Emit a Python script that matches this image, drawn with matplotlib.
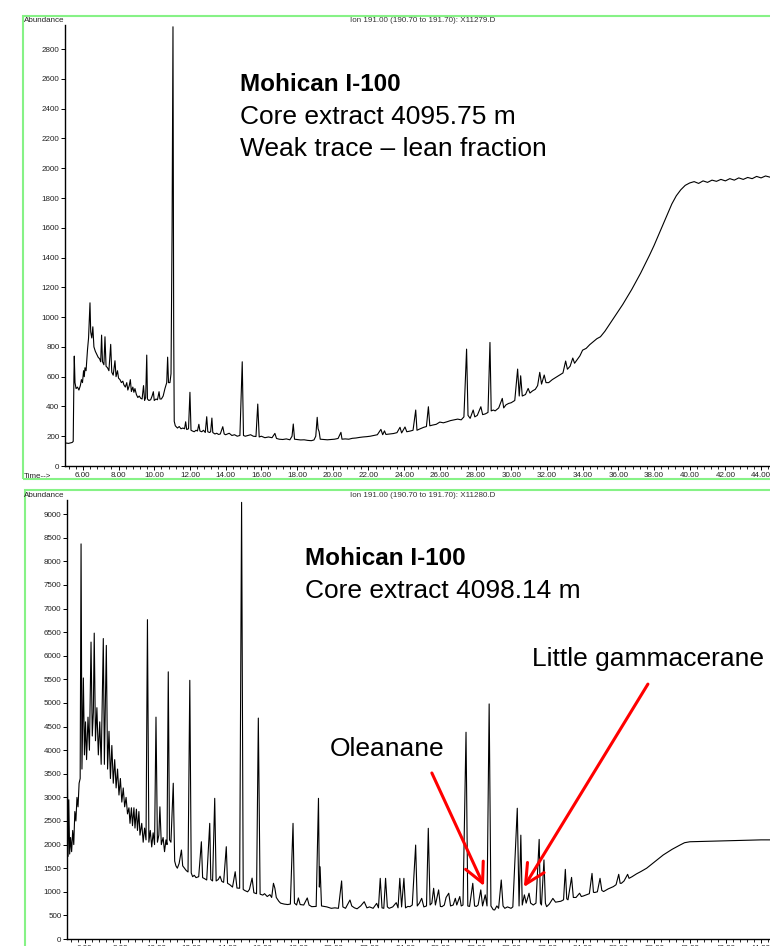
"""
Two stacked m/z 191 ion chromatograms (hopane fingerprint) for the
Mohican I-100 core extracts, drawn in the style of a ChemStation printout.
"""

import matplotlib
matplotlib.use("Agg")
import matplotlib.pyplot as plt
from matplotlib.patches import Rectangle
from matplotlib.ticker import MultipleLocator, FormatStrFormatter

plt.rcParams["font.family"] = ["Liberation Sans", "DejaVu Sans"]

W, H = 770, 946

# ---------------------------------------------------------------------------
# Trace data (retention time in min, abundance)
# ---------------------------------------------------------------------------

upper_time = [
    5.00, 5.20, 5.40, 5.46, 5.50, 5.52, 5.56, 5.62, 5.70, 5.78, 5.86, 5.92,
    5.98, 6.04, 6.08, 6.12, 6.18, 6.26, 6.32, 6.40, 6.44, 6.50, 6.56, 6.62,
    6.70, 6.78, 6.86, 6.94, 7.00, 7.05, 7.10, 7.18, 7.24, 7.30, 7.38, 7.46,
    7.56, 7.62, 7.70, 7.80, 7.86, 7.94, 8.00, 8.08, 8.16, 8.24, 8.30, 8.38,
    8.46, 8.52, 8.60, 8.66, 8.72, 8.80, 8.86, 8.92, 9.00, 9.08, 9.16, 9.24,
    9.32, 9.40, 9.46, 9.52, 9.58, 9.62, 9.70, 9.80, 9.88, 9.95, 10.00, 10.10,
    10.18, 10.27, 10.32, 10.40, 10.50, 10.60, 10.70, 10.75, 10.80, 10.88,
    10.94, 11.00, 11.05, 11.09, 11.12, 11.18, 11.30, 11.40, 11.50, 11.60,
    11.70, 11.76, 11.82, 11.92, 12.00, 12.06, 12.14, 12.24, 12.34, 12.42,
    12.50, 12.56, 12.66, 12.76, 12.86, 12.94, 13.00, 13.10, 13.16, 13.23,
    13.28, 13.40, 13.50, 13.60, 13.70, 13.84, 13.92, 14.00, 14.20, 14.35,
    14.50, 14.65, 14.80, 14.93, 15.00, 15.10, 15.25, 15.40, 15.55, 15.70,
    15.80, 15.88, 16.00, 16.20, 16.40, 16.60, 16.76, 16.85, 17.00, 17.20,
    17.40, 17.60, 17.72, 17.79, 17.86, 18.00, 18.20, 18.40, 18.60, 18.80,
    18.95, 19.05, 19.13, 19.18, 19.24, 19.30, 19.50, 19.70, 19.90, 20.10,
    20.30, 20.46, 20.52, 20.70, 20.90, 21.10, 21.30, 21.50, 21.70, 21.90,
    22.10, 22.30, 22.50, 22.70, 22.80, 22.90, 22.98, 23.20, 23.40, 23.60,
    23.77, 23.86, 24.05, 24.15, 24.35, 24.50, 24.65, 24.72, 24.90, 25.10,
    25.25, 25.36, 25.44, 25.60, 25.80, 26.00, 26.20, 26.40, 26.60, 26.80,
    27.00, 27.20, 27.35, 27.50, 27.58, 27.70, 27.87, 27.96, 28.10, 28.30,
    28.40, 28.55, 28.70, 28.81, 28.88, 29.00, 29.10, 29.30, 29.50, 29.58,
    29.70, 29.85, 30.00, 30.20, 30.36, 30.45, 30.53, 30.62, 30.80, 30.95,
    31.05, 31.20, 31.35, 31.48, 31.60, 31.70, 31.85, 31.95, 32.10, 32.30,
    32.50, 32.70, 32.90, 33.05, 33.15, 33.30, 33.45, 33.55, 33.70, 33.85,
    34.00, 34.20, 34.40, 34.60, 34.80, 35.00, 35.25, 35.50, 35.75, 36.00,
    36.25, 36.50, 36.75, 37.00, 37.25, 37.50, 37.75, 38.00, 38.25, 38.50,
    38.75, 39.00, 39.25, 39.50, 39.75, 40.00, 40.25, 40.50, 40.75, 41.00,
    41.25, 41.50, 41.75, 42.00, 42.25, 42.50, 42.75, 43.00, 43.25, 43.50,
    43.75, 44.00, 44.25, 44.50,
]
upper_abund = [
    155, 152, 158, 165, 600, 738, 560, 520, 530, 510, 540, 580,
    560, 640, 600, 660, 640, 780, 860, 1096, 900, 860, 935, 800,
    770, 750, 730, 720, 700, 879, 700, 680, 868, 670, 660, 640,
    817, 630, 610, 707, 600, 640, 590, 580, 560, 570, 545, 530,
    560, 510, 540, 580, 500, 530, 495, 520, 480, 460, 470, 455,
    450, 540, 440, 460, 745, 450, 440, 445, 470, 499, 440, 450,
    445, 499, 450, 450, 470, 520, 560, 731, 560, 560,
    620, 1600, 2950, 900, 300, 270, 255, 265, 250, 255,
    250, 297, 245, 250, 495, 240, 235, 230, 240, 235,
    280, 235, 230, 240, 225, 331, 230, 225, 230, 322,
    225, 215, 220, 212, 215, 264, 215, 210, 220, 205,
    210, 200, 205, 700, 205, 200, 205, 210, 200, 198,
    416, 195, 200, 190, 195, 190, 219, 185, 180, 178,
    182, 176, 200, 282, 180, 178, 175, 176, 172, 170,
    175, 200, 327, 250, 230, 180, 178, 176, 178, 180,
    185, 226, 180, 182, 180, 186, 188, 192, 195, 197,
    200, 205, 210, 246, 210, 236, 212, 215, 218, 224,
    260, 222, 262, 230, 235, 240, 376, 240, 250, 260,
    265, 398, 270, 275, 280, 295, 290, 297, 305, 310,
    315, 310, 330, 785, 340, 320, 376, 330, 340, 398,
    345, 350, 360, 830, 370, 376, 370, 390, 454, 390,
    410, 420, 425, 440, 651, 470, 606, 470, 480, 521,
    490, 505, 515, 540, 629, 550, 611, 560, 560, 580,
    595, 610, 625, 705, 650, 670, 725, 690, 715, 740,
    778, 790, 815, 835, 855, 868, 905, 950, 995, 1040,
    1085, 1135, 1185, 1240, 1295, 1355, 1416, 1480, 1550, 1620,
    1690, 1760, 1815, 1855, 1885, 1901, 1910, 1898, 1915, 1905,
    1920, 1912, 1925, 1915, 1930, 1920, 1935, 1925, 1938, 1930,
    1945, 1935, 1948, 1940,
]

lower_time = [
    5.00, 5.02, 5.06, 5.10, 5.15, 5.20, 5.26, 5.32, 5.38, 5.44, 5.50, 5.56,
    5.62, 5.68, 5.74, 5.79, 5.84, 5.92, 5.98, 6.04, 6.10, 6.18, 6.26, 6.35,
    6.42, 6.48, 6.53, 6.60, 6.68, 6.76, 6.84, 6.92, 7.04, 7.10, 7.21, 7.28,
    7.36, 7.44, 7.52, 7.60, 7.68, 7.76, 7.84, 7.92, 8.00, 8.08, 8.16, 8.24,
    8.32, 8.40, 8.48, 8.54, 8.62, 8.68, 8.76, 8.82, 8.90, 8.96, 9.04, 9.10,
    9.20, 9.28, 9.36, 9.44, 9.52, 9.60, 9.68, 9.76, 9.84, 9.92, 10.00, 10.08,
    10.16, 10.22, 10.30, 10.40, 10.48, 10.56, 10.62, 10.69, 10.76, 10.84,
    10.97, 11.05, 11.12, 11.20, 11.30, 11.43, 11.50, 11.60, 11.70, 11.80,
    11.90, 11.98, 12.06, 12.15, 12.25, 12.40, 12.55, 12.62, 12.72, 12.85,
    13.02, 13.08, 13.18, 13.30, 13.38, 13.50, 13.60, 13.70, 13.80, 13.95,
    14.02, 14.15, 14.30, 14.45, 14.55, 14.70, 14.81, 14.90, 15.00, 15.15,
    15.25, 15.40, 15.50, 15.65, 15.75, 15.85, 16.00, 16.10, 16.25, 16.40,
    16.50, 16.60, 16.68, 16.76, 16.90, 17.00, 17.20, 17.40, 17.55, 17.70,
    17.78, 17.90, 18.00, 18.10, 18.30, 18.50, 18.60, 18.75, 19.00, 19.13,
    19.18, 19.22, 19.30, 19.45, 19.60, 19.85, 20.05, 20.25, 20.43, 20.50,
    20.65, 20.90, 21.00, 21.15, 21.30, 21.50, 21.70, 21.85, 22.00, 22.20,
    22.40, 22.50, 22.60, 22.70, 22.80, 22.90, 23.00, 23.10, 23.30, 23.50,
    23.60, 23.70, 23.80, 23.93, 24.02, 24.15, 24.27, 24.40, 24.59, 24.68,
    24.80, 24.93, 25.05, 25.20, 25.30, 25.40, 25.50, 25.60, 25.70, 25.88,
    25.98, 26.07, 26.20, 26.30, 26.45, 26.55, 26.70, 26.82, 26.90, 27.07,
    27.15, 27.25, 27.42, 27.52, 27.62, 27.80, 27.90, 28.00, 28.10, 28.25,
    28.35, 28.50, 28.60, 28.72, 28.82, 28.95, 29.03, 29.15, 29.25, 29.40,
    29.50, 29.60, 29.75, 29.95, 30.05, 30.30, 30.40, 30.50, 30.58, 30.70,
    30.80, 30.96, 31.05, 31.20, 31.35, 31.53, 31.60, 31.66, 31.80, 31.88,
    31.95, 32.10, 32.30, 32.45, 32.60, 32.75, 32.90, 33.00, 33.08, 33.15,
    33.35, 33.45, 33.60, 33.80, 33.90, 34.00, 34.20, 34.35, 34.50, 34.58,
    34.65, 34.80, 34.95, 35.05, 35.15, 35.40, 35.70, 35.85, 36.00, 36.08,
    36.15, 36.30, 36.50, 36.58, 36.75, 37.00, 37.25, 37.57, 38.00, 38.50,
    39.00, 39.44, 39.70, 40.00, 40.50, 41.00, 41.50, 42.00, 42.50, 43.00,
    43.50, 44.00, 44.50,
]
lower_abund = [
    1000, 3700, 1750, 2950, 1800, 2150, 1850, 2300, 2000, 2700, 2500, 3000,
    2800, 3300, 3400, 8370, 3600, 5530, 3900, 4600, 3800, 4700, 4000, 6290,
    4300, 4800, 6480, 4200, 4900, 3900, 4600, 3700, 6365, 3700, 6220, 3600,
    4400, 3400, 4100, 3300, 3800, 3200, 3600, 3050, 3400, 2900, 3200, 2800,
    3000, 2650, 2780, 2450, 2780, 2400, 2780, 2350, 2750, 2300, 2700, 2200,
    2450, 2050, 2350, 2100, 6765, 2050, 2300, 1950, 2250, 2000, 4700, 2050,
    2200, 2800, 2000, 2150, 1850, 2100, 2000, 5660, 2100, 2050,
    3300, 1650, 1550, 1500, 1600, 1885, 1550, 1500, 1450, 1420,
    5480, 1400, 1320, 1350, 1300, 1320, 2060, 1300, 1280, 1250,
    2450, 1260, 1230, 2980, 1230, 1260, 1330, 1220, 1200, 1955,
    1180, 1150, 1100, 1425, 1080, 1075, 9250, 1050, 1025, 1000,
    1050, 1290, 980, 960, 4680, 950, 930, 960, 900, 940,
    880, 1180, 1075, 880, 800, 760, 740, 730, 740, 2450,
    760, 720, 870, 730, 720, 870, 720, 685, 690, 2980,
    1100, 1530, 700, 690, 680, 650, 660, 650, 1230, 680,
    650, 826, 700, 660, 640, 700, 790, 660, 680, 650,
    755, 660, 1285, 660, 650, 1285, 680, 650, 680, 770,
    660, 1285, 680, 1285, 660, 690, 685, 720, 1990, 700,
    760, 862, 680, 700, 2345, 720, 760, 1074, 720, 1040,
    690, 685, 720, 880, 970, 700, 720, 862, 720, 900,
    700, 720, 4380, 700, 690, 1180, 700, 690, 720, 1040,
    700, 935, 700, 4980, 700, 620, 615, 700, 650, 1250,
    700, 650, 680, 650, 680, 2770, 700, 2200, 720, 935,
    760, 970, 760, 720, 760, 2110, 760, 720, 1675, 760,
    685, 740, 860, 780, 790, 800, 830, 1475, 850, 830,
    1305, 880, 880, 970, 900, 910, 940, 960, 1390, 990,
    985, 1000, 1285, 1030, 1005, 1060, 1110, 1150, 1370, 1180,
    1180, 1230, 1370, 1285, 1320, 1380, 1430, 1500, 1630, 1780,
    1900, 1990, 2040, 2060, 2065, 2070, 2075, 2080, 2085, 2090,
    2095, 2100, 2100,
]

# Labelled compounds in the lower run: (name, tip time, tip abundance)
marker_names = ["Oleanane", "Little gammacerane"]
marker_time = [28.43, 30.67]
marker_abund = [1123, 1100]

upper_caption = ["Mohican I-100", "Core extract 4095.75 m", "Weak trace \u2013 lean fraction"]
lower_caption = ["Mohican I-100", "Core extract 4098.14 m"]
ion_labels = [
    "Ion 191.00 (190.70 to 191.70): X11279.D",
    "Ion 191.00 (190.70 to 191.70): X11280.D",
]

GREEN = "#86f286"
SMALL = 5.8
BIG = 19
BOLD = 17.5


def px(x, y):
    """Pixel position (from top-left) to figure fraction."""
    return x / W, 1 - y / H


def style_axis(ax, ymax, ystep):
    ax.set_xlim(5.0, 44.5)
    ax.set_ylim(0, ymax)
    for side in ("top", "right"):
        ax.spines[side].set_visible(False)
    for side in ("left", "bottom"):
        ax.spines[side].set_linewidth(1.0)
    ax.xaxis.set_major_locator(MultipleLocator(2))
    ax.xaxis.set_minor_locator(MultipleLocator(0.4))
    ax.xaxis.set_major_formatter(FormatStrFormatter("%.2f"))
    ax.yaxis.set_major_locator(MultipleLocator(ystep))
    ax.tick_params(axis="both", which="major", length=3, width=0.7,
                   labelsize=SMALL, pad=1, labelcolor="#222222")
    ax.tick_params(axis="x", which="minor", length=2, width=0.6)
    ax.set_facecolor("none")


fig = plt.figure(figsize=(W / 100, H / 100), dpi=100)

# green frames round each printout
x0, y0 = px(23, 479)
fig.add_artist(Rectangle((x0, y0), 1.05 - x0, (479 - 16) / H,
                         transform=fig.transFigure, fill=False,
                         edgecolor=GREEN, linewidth=1.5))
x0, y0 = px(25, 960)
fig.add_artist(Rectangle((x0, y0), 1.05 - x0, (960 - 490) / H,
                         transform=fig.transFigure, fill=False,
                         edgecolor=GREEN, linewidth=1.5))

# upper chromatogram
l, b = px(65, 466)
ax1 = fig.add_axes([l, b, 1 - l, (466 - 25) / H])
ax1.plot(upper_time, upper_abund, color="black", linewidth=0.8)
style_axis(ax1, 2962, 200)

# lower chromatogram (its time labels run off the bottom of the sheet)
l, b = px(67, 939)
ax2 = fig.add_axes([l, b, 1 - l, (939 - 500) / H])
ax2.plot(lower_time, lower_abund, color="black", linewidth=0.8)
style_axis(ax2, 9300, 500)

# printout header texts
for y, ion in zip((21, 495), ion_labels):
    fig.text(*px(24, y), "Abundance", fontsize=SMALL, va="center", color="#222222")
    fig.text(*px(350, y), ion, fontsize=SMALL, va="center", color="#333333")
fig.text(*px(24, 476), "Time-->", fontsize=SMALL, va="center", color="#222222")

# sample captions
for i, (line, y) in enumerate(zip(upper_caption, (91, 124, 156))):
    fig.text(*px(240, y), line, va="baseline",
             fontsize=BOLD if i == 0 else BIG,
             fontweight="bold" if i == 0 else "normal")
for i, (line, y) in enumerate(zip(lower_caption, (565, 598))):
    fig.text(*px(305, y), line, va="baseline",
             fontsize=BOLD if i == 0 else BIG,
             fontweight="bold" if i == 0 else "normal")

# biomarker call-outs with red arrows
label_xy = [(25.5, 3517), (37.64, 5400)]
text_pos = [(330, 756), (532, 666)]
for name, t, a, start, pos in zip(marker_names, marker_time, marker_abund,
                                  label_xy, text_pos):
    ax2.annotate("", xy=(t, a), xytext=start,
                 arrowprops=dict(arrowstyle="->, head_length=0.7, head_width=0.35",
                                 color="red", linewidth=2.2, mutation_scale=20,
                                 shrinkA=0, shrinkB=0))
    fig.text(*px(*pos), name, fontsize=BIG, va="baseline")

fig.savefig("out.png", dpi=100)
plt.close(fig)
